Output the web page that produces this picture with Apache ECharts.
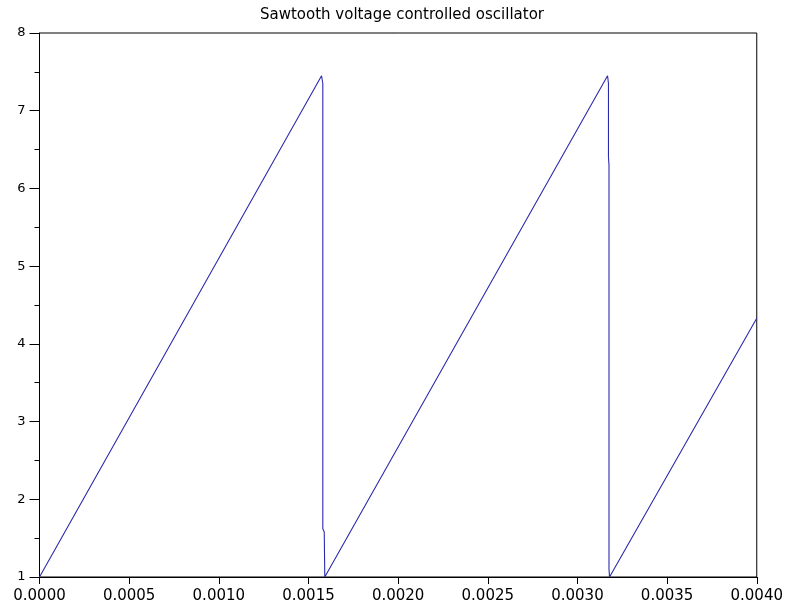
<!DOCTYPE html>
<html>
<head>
<meta charset="utf-8">
<script src="https://cdn.jsdelivr.net/npm/echarts@6/dist/echarts.min.js"></script>
<style>html,body{margin:0;padding:0;background:#fff}#c{width:786px;height:609px}</style>
</head>
<body>
<div id="c"></div>
<script>
var titleText = 'Sawtooth voltage controlled oscillator';
var timeValues = [0, 0.001573, 0.001580, 0.001580, 0.001588, 0.001591, 0.003168, 0.003173, 0.003173, 0.003176, 0.003176, 0.003179, 0.004];
var voltageValues = [1.0, 7.45, 7.35, 1.62, 1.58, 1.0, 7.45, 7.35, 6.4, 6.3, 1.1, 1.0, 4.33];
var xTicks = [0, 0.0005, 0.001, 0.0015, 0.002, 0.0025, 0.003, 0.0035, 0.004];
var yTicks = [1, 2, 3, 4, 5, 6, 7, 8];

var data = timeValues.map(function (t, i) { return [t, voltageValues[i]]; });
var chart = echarts.init(document.getElementById('c'), null, {renderer: 'canvas'});
var FONT = 'DejaVu Sans, Verdana, sans-serif';
chart.setOption({
  animation: false,
  backgroundColor: '#fff',
  title: {
    text: titleText, left: 397, top: 3, textAlign: 'center',
    textStyle: {fontFamily: FONT, fontSize: 15, fontWeight: 'normal', color: '#000'}
  },
  grid: {left: 39.5, right: 27, top: 33, bottom: 32, show: true, borderColor: '#000', borderWidth: 1, containLabel: false},
  xAxis: {
    type: 'value', min: xTicks[0], max: xTicks[xTicks.length - 1], interval: 0.0005,
    axisLine: {show: true, onZero: false, lineStyle: {color: '#000', width: 1}},
    axisTick: {show: true, inside: false, length: 7, lineStyle: {color: '#000'}},
    splitLine: {show: false},
    axisLabel: {color: '#000', fontFamily: FONT, fontSize: 15, margin: 12,
      formatter: function (v) { return v.toFixed(4); }}
  },
  yAxis: {
    type: 'value', min: yTicks[0], max: yTicks[yTicks.length - 1], interval: 1,
    axisLine: {show: true, onZero: false, lineStyle: {color: '#000', width: 1}},
    axisTick: {show: true, inside: false, length: 10, lineStyle: {color: '#000'}},
    minorTick: {show: true, splitNumber: 2, length: 5, lineStyle: {color: '#000'}},
    splitLine: {show: false},
    axisLabel: {color: '#000', fontFamily: FONT, fontSize: 13, margin: 14,
      formatter: function (v) { return String(v); }}
  },
  series: [{
    type: 'line', data: data, showSymbol: false, symbol: 'none',
    lineStyle: {color: '#2a2aae', width: 1.1}, itemStyle: {color: '#2a2aae'}
  }]
});
</script>
</body>
</html>
